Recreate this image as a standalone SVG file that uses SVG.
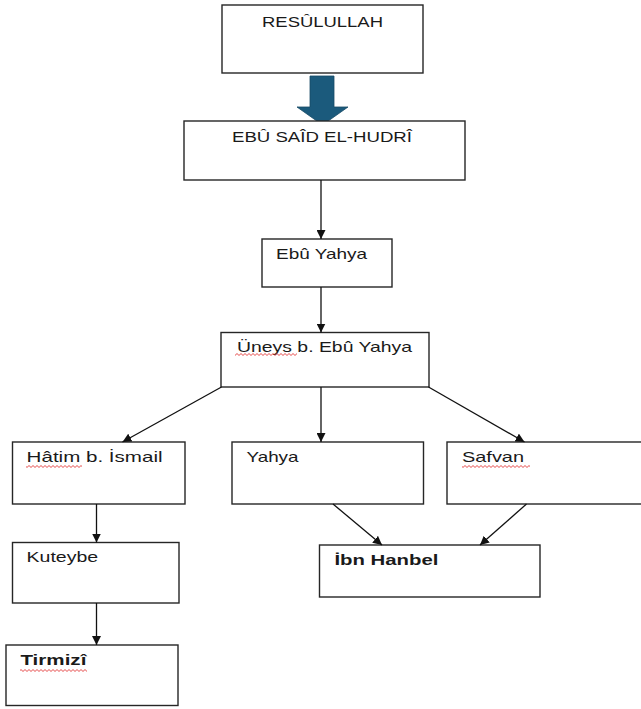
<svg xmlns="http://www.w3.org/2000/svg" width="641" height="709" viewBox="0 0 641 709">
<style>
.box{fill:#fff;stroke:#262626;stroke-width:1.4}
.t{font-family:"Liberation Sans",Arial,sans-serif;font-size:14.5px;fill:#1a1a1a}
.b{font-weight:bold}
.c{stroke:#111;stroke-width:1.3;fill:none;marker-end:url(#ah)}
</style>
<defs>
<marker id="ah" viewBox="0 0 10 10" refX="10" refY="5" markerWidth="9" markerHeight="9" markerUnits="userSpaceOnUse" orient="auto">
<path d="M0 0 L10 5 L0 10 Z" fill="#111"/>
</marker>
<pattern id="wave" width="4" height="4" patternUnits="userSpaceOnUse">
<path d="M0 2.5 Q1 0.6 2 2.5 T4 2.5" fill="none" stroke="#e23a3a" stroke-width="0.9"/>
</pattern>
</defs>
<rect width="641" height="709" fill="#fff"/>
<g id="resulullah">
<rect class="box" x="222" y="5" width="201" height="68"/>
<text class="t" x="262" y="27" textLength="121" lengthAdjust="spacingAndGlyphs">RESÛLULLAH</text>
</g>
<g id="big-arrow">
<polygon points="310,76 334,76 334,107 348,107 322.5,125 297,107 310,107" fill="#1b5a7c" stroke="#164a66" stroke-width="0.8"/>
</g>
<g id="ebu-said">
<rect class="box" x="184" y="121" width="281" height="59"/>
<text class="t" x="232" y="141.5" textLength="180" lengthAdjust="spacingAndGlyphs">EBÛ SAÎD EL-HUDRÎ</text>
</g>
<g id="ebu-yahya">
<rect class="box" x="262" y="239" width="130" height="48"/>
<text class="t" x="276" y="259" textLength="91" lengthAdjust="spacingAndGlyphs">Ebû Yahya</text>
</g>
<g id="uneys">
<rect class="box" x="221" y="332.5" width="208" height="54.5"/>
<text class="t" x="237" y="352" textLength="175" lengthAdjust="spacingAndGlyphs">Üneys b. Ebû Yahya</text>
<rect x="235" y="352" width="62" height="4" fill="url(#wave)"/>
</g>
<g id="hatim">
<rect class="box" x="12.5" y="442" width="172.5" height="62"/>
<text class="t" x="26.6" y="462" textLength="136" lengthAdjust="spacingAndGlyphs">Hâtim b. İsmail</text>
<rect x="26" y="464" width="56" height="4" fill="url(#wave)"/>
</g>
<g id="yahya">
<rect class="box" x="232" y="442" width="191.5" height="62"/>
<text class="t" x="246.5" y="462" textLength="52" lengthAdjust="spacingAndGlyphs">Yahya</text>
</g>
<g id="safvan">
<rect class="box" x="447" y="442" width="196" height="62"/>
<text class="t" x="462" y="462" textLength="62" lengthAdjust="spacingAndGlyphs">Safvan</text>
<rect x="462" y="464" width="68" height="4" fill="url(#wave)"/>
</g>
<g id="kuteybe">
<rect class="box" x="12.5" y="542.5" width="166.5" height="60.5"/>
<text class="t" x="26.6" y="562" textLength="71.5" lengthAdjust="spacingAndGlyphs">Kuteybe</text>
</g>
<g id="ibn-hanbel">
<rect class="box" x="319.5" y="545" width="220.5" height="52"/>
<text class="t b" x="334.4" y="565" textLength="104" lengthAdjust="spacingAndGlyphs">İbn Hanbel</text>
</g>
<g id="tirmizi">
<rect class="box" x="6" y="645" width="172" height="60.5"/>
<text class="t b" x="20.4" y="665" textLength="66" lengthAdjust="spacingAndGlyphs">Tirmizî</text>
<rect x="20" y="668" width="67" height="4" fill="url(#wave)"/>
</g>
<g id="connectors">
<path class="c" d="M321 180 L321 239"/>
<path class="c" d="M321 287 L321 332.5"/>
<path class="c" d="M221.5 387 L122.5 442"/>
<path class="c" d="M321 387 L321 442"/>
<path class="c" d="M428.5 387 L524.5 442"/>
<path class="c" d="M96.5 504 L96.5 542.5"/>
<path class="c" d="M96.5 603 L96.5 645"/>
<path class="c" d="M333 504 L382 545"/>
<path class="c" d="M526.5 504 L480 545"/>
</g>
</svg>
